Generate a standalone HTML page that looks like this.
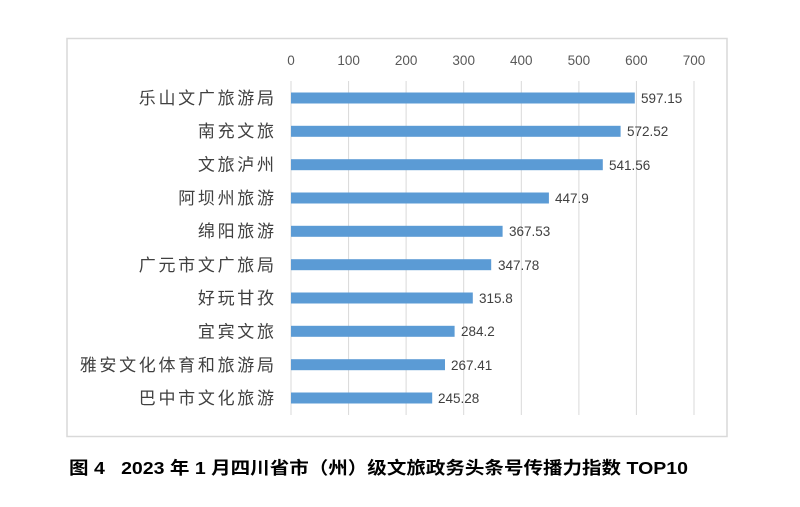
<!DOCTYPE html>
<html><head><meta charset="utf-8"><style>
body{margin:0;background:#fff;}
svg text{font-family:"Liberation Sans","Noto Sans CJK SC",sans-serif;}
</style></head><body>
<svg width="800" height="502" xmlns="http://www.w3.org/2000/svg">
<rect x="67" y="38.5" width="660" height="398" fill="#fff" stroke="#d9d9d9" stroke-width="1.5"/>
<g stroke="#d9d9d9" stroke-width="1">
<line x1="291" y1="81" x2="291" y2="415"/>
<line x1="348.6" y1="81" x2="348.6" y2="415"/>
<line x1="406.1" y1="81" x2="406.1" y2="415"/>
<line x1="463.7" y1="81" x2="463.7" y2="415"/>
<line x1="521.3" y1="81" x2="521.3" y2="415"/>
<line x1="578.9" y1="81" x2="578.9" y2="415"/>
<line x1="636.4" y1="81" x2="636.4" y2="415"/>
<line x1="694" y1="81" x2="694" y2="415"/>
</g>
<g fill="#595959" font-size="13.5" text-anchor="middle">
<text x="291" y="65">0</text><text x="348.6" y="65">100</text><text x="406.1" y="65">200</text><text x="463.7" y="65">300</text><text x="521.3" y="65">400</text><text x="578.9" y="65">500</text><text x="636.4" y="65">600</text><text x="694" y="65">700</text>
</g>
<g fill="#5b9bd5">
<rect x="291" y="92.5" width="343.8" height="11"/>
<rect x="291" y="125.8" width="329.6" height="11"/>
<rect x="291" y="159.2" width="311.8" height="11"/>
<rect x="291" y="192.5" width="257.9" height="11"/>
<rect x="291" y="225.8" width="211.6" height="11"/>
<rect x="291" y="259.2" width="200.2" height="11"/>
<rect x="291" y="292.5" width="181.8" height="11"/>
<rect x="291" y="325.8" width="163.6" height="11"/>
<rect x="291" y="359.2" width="154" height="11"/>
<rect x="291" y="392.5" width="141.2" height="11"/>
</g>
<g fill="#404040" font-size="13.5">
<text x="641" y="103">597.15</text>
<text x="627" y="136">572.52</text>
<text x="609" y="170">541.56</text>
<text x="555" y="203">447.9</text>
<text x="509" y="236">367.53</text>
<text x="498" y="270">347.78</text>
<text x="479" y="303">315.8</text>
<text x="461" y="336">284.2</text>
<text x="451" y="370">267.41</text>
<text x="438" y="403">245.28</text>
</g>
<g fill="#404040" font-size="17" text-anchor="end" letter-spacing="2.7">
<text x="276.7" y="104">乐山文广旅游局</text>
<text x="276.7" y="137">南充文旅</text>
<text x="276.7" y="170.5">文旅泸州</text>
<text x="276.7" y="204">阿坝州旅游</text>
<text x="276.7" y="237">绵阳旅游</text>
<text x="276.7" y="271">广元市文广旅局</text>
<text x="276.7" y="304">好玩甘孜</text>
<text x="276.7" y="337.5">宜宾文旅</text>
<text x="276.7" y="371">雅安文化体育和旅游局</text>
<text x="276.7" y="404">巴中市文化旅游</text>
</g>
<text x="69" y="474" font-size="17.5" font-weight="bold" fill="#000" style="white-space:pre" textLength="619" lengthAdjust="spacingAndGlyphs">图 4   2023 年 1 月四川省市（州）级文旅政务头条号传播力指数 TOP10</text>
</svg>
</body></html>
